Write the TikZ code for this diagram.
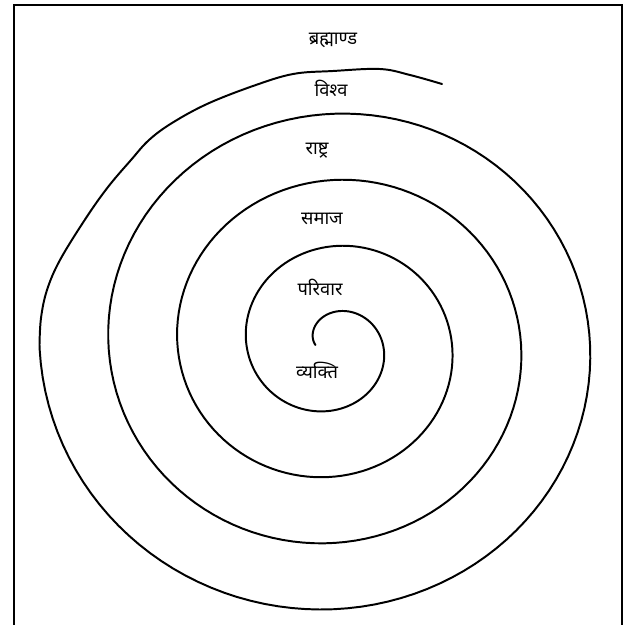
\documentclass[tikz,border=0pt]{standalone}
\usepackage{fontspec}
\newfontfamily\devfont[Script=Devanagari]{Noto Sans}

\begin{document}
\begin{tikzpicture}[x=0.025cm, y=-0.025cm,
    spiralline/.style={line width=1.4pt, line cap=round, line join=round},
    wordtext/.style={font=\devfont\fontsize{13}{15}\selectfont, inner sep=0pt}]
  % Page size (pixel grid, y downwards)
  \useasboundingbox (0,0) rectangle (628,624);

  % Frame, open at the bottom
  \draw [line width=1.8pt] (14,626) -- (14,5) -- (622,5) -- (622,626);

  % Spiral: r = 69 per turn, centre (332,345), starting inside and winding outwards
  \draw [spiralline] plot [domain=0.24:4.24, samples=500]
      ({332 + 69*\x*cos(180 - 360*(\x-0.24))}, {345 - 0.96*69*\x*sin(180 - 360*(\x-0.24))})
    -- plot [smooth, tension=0.6] coordinates {(39.5,345) (41,318) (47,290) (60,260) (86,218)
      (108,187) (131,160) (149,140) (172,123) (207,104) (253,86) (293,74) (333,71)
      (380,69) (410,75) (442,84)};

  % Words placed between the turns
  \foreach \name/\x/\y/\word in {brahmand/333/40/ब्रह्माण्ड, vishva/331/88/विश्व,
      rashtra/317/151/राष्ट्र, samaj/322/219/समाज, parivar/320/287/परिवार,
      vyakti/317/370/व्यक्ति} {
    \node [wordtext] (\name) at (\x,\y) {\word};
  }
\end{tikzpicture}
\end{document}
